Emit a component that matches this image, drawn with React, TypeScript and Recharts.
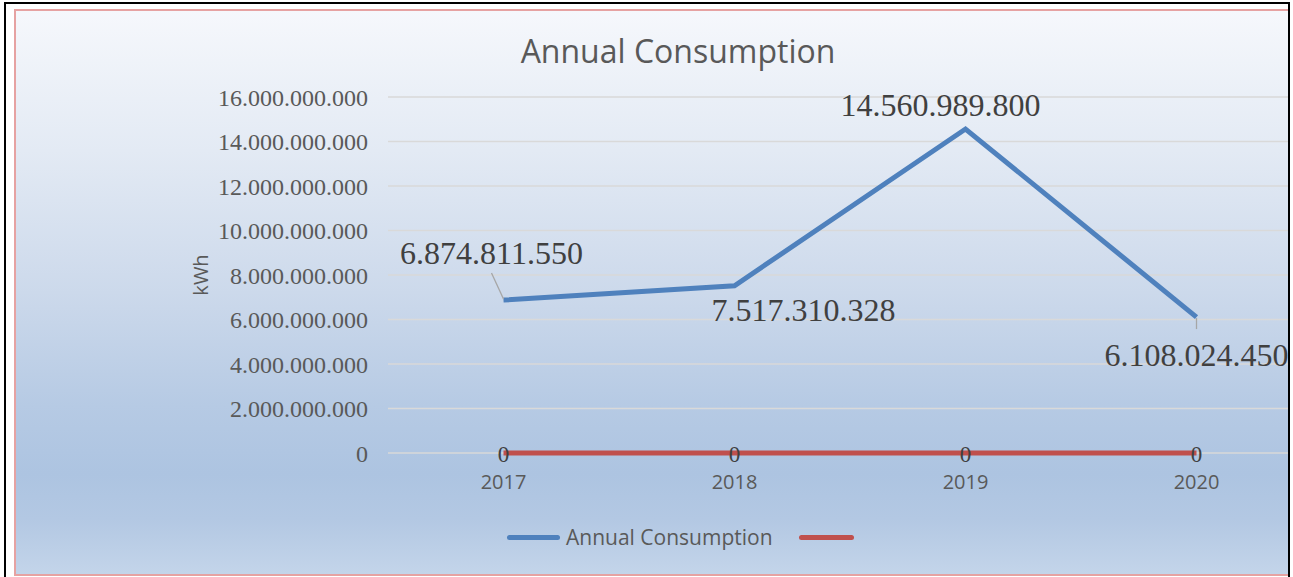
import React from 'react';
import { LineChart, Line, XAxis, YAxis, CartesianGrid, Legend, LabelList } from 'recharts';

const years = ['2017', '2018', '2019', '2020'];
const consumption = [6874811550, 7517310328, 14560989800, 6108024450];
const secondSeries = [0, 0, 0, 0];
const yTicks = [0, 2000000000, 4000000000, 6000000000, 8000000000, 10000000000, 12000000000, 14000000000, 16000000000];
const seriesName = 'Annual Consumption';
const titleText = 'Annual Consumption';
const yAxisTitle = 'kWh';

const data = years.map((y, i) => ({ year: y, consumption: consumption[i], other: secondSeries[i] }));

const fmt = (v: number) => Math.round(v).toString().replace(/\B(?=(\d{3})+(?!\d))/g, '.');

const BLUE = '#4f81bd';
const RED = '#c0504d';
const SERIF = '"Liberation Serif", "Times New Roman", serif';
const SANS = '"Open Sans", "Noto Sans", sans-serif';

// label placement per point (style only)
const blueLabelPos = [
  { dx: -12, dy: -47, leader: [[-12, -27], [0, -1]] },
  { dx: 69, dy: 24, leader: null },
  { dx: -25, dy: -24, leader: null },
  { dx: 0, dy: 38, leader: [[0, 1], [0, 12]] },
];

const BlueLabel = (props: any) => {
  const { x, y, value, index } = props;
  const p = blueLabelPos[index] || { dx: 0, dy: -20, leader: null };
  return (
    <g>
      {p.leader && (
        <line x1={x + p.leader[0][0]} y1={y + p.leader[0][1]} x2={x + p.leader[1][0]} y2={y + p.leader[1][1]} stroke="#a6a6a6" strokeWidth={1.3} />
      )}
      <text x={x + p.dx} y={y + p.dy} textAnchor="middle" dominantBaseline="central" fontFamily={SERIF} fontSize={32} fill="#404040">
        {fmt(value)}
      </text>
    </g>
  );
};

const RedLabel = (props: any) => {
  const { x, y, value } = props;
  return (
    <text x={x} y={y + 1} textAnchor="middle" dominantBaseline="central" fontFamily={SERIF} fontSize={23} fill="#404040">
      {fmt(value)}
    </text>
  );
};

const LegendContent = () => (
  <div style={{ height: 30, display: 'flex', alignItems: 'center', paddingLeft: 493, fontFamily: SANS, fontSize: 21, color: '#595959' }}>
    <div style={{ width: 53, height: 5, borderRadius: 3, background: BLUE, marginRight: 6 }} />
    <span style={{ marginRight: 26 }}>{seriesName}</span>
    <div style={{ width: 55, height: 5, borderRadius: 3, background: RED }} />
  </div>
);

export default function App() {
  return (
    <div style={{ position: 'absolute', left: 0, top: 0, width: 1293, height: 577, overflow: 'hidden', background: '#ffffff' }}>
      <div style={{ position: 'absolute', left: 0, top: 0, width: 1288, height: 577, overflow: 'hidden' }}>
        <div
          style={{
            position: 'absolute', left: 14, top: 9, width: 1328, height: 567,
            background: 'linear-gradient(to bottom, #f6f8fc 0%, #e3eaf4 25%, #ccd9eb 50%, #b6cae4 70%, #adc4e1 82%, #b3c8e3 90%, #c4d5ea 100%)',
          }}
        >
          <div style={{ position: 'absolute', left: 0, top: 20, width: 1328, textAlign: 'center', fontFamily: SANS, fontSize: 32, color: '#595959' }}>
            {titleText}
          </div>
          <LineChart width={1328} height={567} data={data} margin={{ top: 88, right: 30, left: 0, bottom: 53 }}>
            <CartesianGrid vertical={false} stroke="#d9d9d9" strokeWidth={1.5} />
            <XAxis dataKey="year" axisLine={false} tickLine={false} tickSize={0} tickMargin={22} height={40}
              padding={{ left: 115.5, right: 115.5 }}
              tick={{ fontFamily: SANS, fontSize: 20, fill: '#595959' }} />
            <YAxis width={374} domain={[0, 16000000000]} ticks={yTicks} axisLine={false} tickLine={false} tickSize={0} tickMargin={20}
              tickFormatter={fmt} tick={{ fontFamily: SERIF, fontSize: 24, fill: '#595959' }}
              label={{ value: yAxisTitle, angle: -90, position: 'center', style: { fontFamily: SANS, fontSize: 20, fill: '#595959' } }} />
            <Legend verticalAlign="bottom" content={<LegendContent />} wrapperStyle={{ left: 0, width: 1328, bottom: 24 }} />
            <Line type="linear" dataKey="other" name=" " stroke={RED} strokeWidth={5} dot={false} isAnimationActive={false}>
              <LabelList dataKey="other" content={<RedLabel />} />
            </Line>
            <Line type="linear" dataKey="consumption" name={seriesName} stroke={BLUE} strokeWidth={5} dot={false} isAnimationActive={false}>
              <LabelList dataKey="consumption" content={<BlueLabel />} />
            </Line>
          </LineChart>
          <div style={{ position: 'absolute', left: 0, top: 0, width: 1324, height: 563, border: '2px solid #e6a2a2', pointerEvents: 'none' }} />
        </div>
      </div>
      <div style={{ position: 'absolute', left: 4, top: 2, width: 1282, height: 590, border: '2px solid #000', pointerEvents: 'none' }} />
    </div>
  );
}
